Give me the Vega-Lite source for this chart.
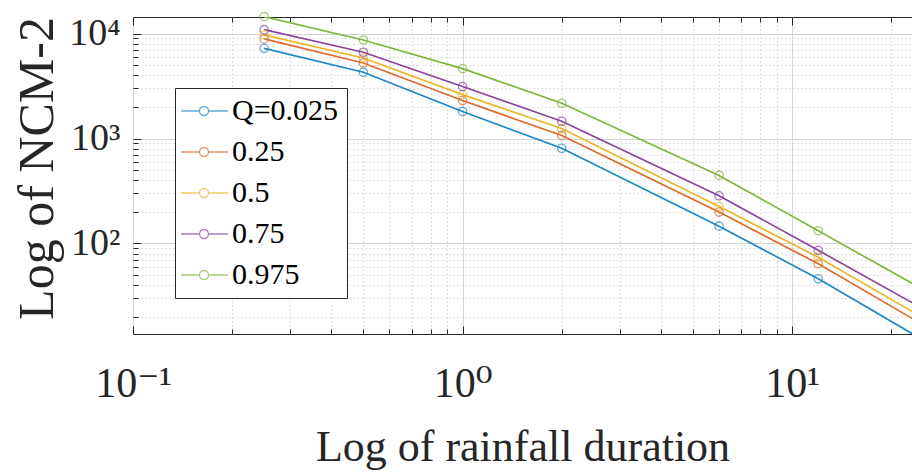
{
  "$schema": "https://vega.github.io/schema/vega-lite/v6.json",
  "width": 779,
  "height": 317,
  "autosize": {"type": "none"},
  "padding": {"left": 133, "top": 17, "right": 0, "bottom": 138},
  "background": "white",
  "config": {
    "view": {"stroke": "#262626", "strokeWidth": 1},
    "font": "'Liberation Serif', 'DejaVu Serif', serif"
  },
  "data": {
    "values": [
      {"d": 0.25, "q": "Q=0.025", "ncm": 7240},
      {"d": 0.5, "q": "Q=0.025", "ncm": 4280},
      {"d": 1, "q": "Q=0.025", "ncm": 1810},
      {"d": 2, "q": "Q=0.025", "ncm": 807},
      {"d": 6, "q": "Q=0.025", "ncm": 146},
      {"d": 12, "q": "Q=0.025", "ncm": 46},
      {"d": 24, "q": "Q=0.025", "ncm": 12.9},
      {"d": 0.25, "q": "0.25", "ncm": 8900},
      {"d": 0.5, "q": "0.25", "ncm": 5250},
      {"d": 1, "q": "0.25", "ncm": 2300},
      {"d": 2, "q": "0.25", "ncm": 1070},
      {"d": 6, "q": "0.25", "ncm": 199},
      {"d": 12, "q": "0.25", "ncm": 64},
      {"d": 24, "q": "0.25", "ncm": 18},
      {"d": 0.25, "q": "0.5", "ncm": 9720},
      {"d": 0.5, "q": "0.5", "ncm": 5860},
      {"d": 1, "q": "0.5", "ncm": 2620},
      {"d": 2, "q": "0.5", "ncm": 1245},
      {"d": 6, "q": "0.5", "ncm": 225},
      {"d": 12, "q": "0.5", "ncm": 74},
      {"d": 24, "q": "0.5", "ncm": 21},
      {"d": 0.25, "q": "0.75", "ncm": 10900},
      {"d": 0.5, "q": "0.75", "ncm": 6640},
      {"d": 1, "q": "0.75", "ncm": 3130},
      {"d": 2, "q": "0.75", "ncm": 1460},
      {"d": 6, "q": "0.75", "ncm": 285},
      {"d": 12, "q": "0.75", "ncm": 86},
      {"d": 24, "q": "0.75", "ncm": 25.5},
      {"d": 0.25, "q": "0.975", "ncm": 14500},
      {"d": 0.5, "q": "0.975", "ncm": 8700},
      {"d": 1, "q": "0.975", "ncm": 4640},
      {"d": 2, "q": "0.975", "ncm": 2170},
      {"d": 6, "q": "0.975", "ncm": 445},
      {"d": 12, "q": "0.975", "ncm": 132},
      {"d": 24, "q": "0.975", "ncm": 39}
    ]
  },
  "encoding": {
    "x": {
      "field": "d",
      "type": "quantitative",
      "scale": {"type": "log", "domain": [0.1, 23.1], "nice": false},
      "axis": {
        "values": [0.1, 0.2, 0.3, 0.4, 0.5, 0.6, 0.7, 0.8, 0.9, 1, 2, 3, 4, 5, 6, 7, 8, 9, 10, 20],
        "labelExpr": "datum.value == 0.1 ? '10⁻¹' : datum.value == 1 ? '10⁰' : datum.value == 10 ? '10¹' : ''",
        "labelFont": "'Liberation Serif', 'DejaVu Serif', serif",
        "labelFontSize": 42,
        "labelColor": "#262626",
        "labelPadding": 37,
        "labelFlush": false,
        "labelOverlap": false,
        "domain": false,
        "tickColor": "#262626",
        "tickSize": {"condition": {"test": "datum.value == 0.1 || datum.value == 1 || datum.value == 10", "value": -8}, "value": -5},
        "grid": true,
        "gridColor": {"condition": {"test": "datum.value == 0.1 || datum.value == 1 || datum.value == 10", "value": "#d6d6d6"}, "value": "#c0c0c0"},
        "gridDash": {"condition": {"test": "datum.value == 0.1 || datum.value == 1 || datum.value == 10", "value": []}, "value": [1, 3]},
        "title": "Log of rainfall duration",
        "titleFont": "'Liberation Serif', 'DejaVu Serif', serif",
        "titleFontSize": 44,
        "titleFontWeight": "normal",
        "titleColor": "#262626",
        "titleBaseline": "alphabetic",
        "titleY": 126
      }
    },
    "y": {
      "field": "ncm",
      "type": "quantitative",
      "scale": {"type": "log", "domain": [13.7, 14400], "nice": false},
      "axis": {
        "values": [20, 30, 40, 50, 60, 70, 80, 90, 100, 200, 300, 400, 500, 600, 700, 800, 900, 1000, 2000, 3000, 4000, 5000, 6000, 7000, 8000, 9000, 10000],
        "labelExpr": "datum.value == 100 ? '10²' : datum.value == 1000 ? '10³' : datum.value == 10000 ? '10⁴' : ''",
        "labelFont": "'Liberation Serif', 'DejaVu Serif', serif",
        "labelFontSize": 38,
        "labelColor": "#262626",
        "labelPadding": 21,
        "labelFlush": false,
        "labelOverlap": false,
        "domain": false,
        "tickColor": "#262626",
        "tickSize": {"condition": {"test": "datum.value == 100 || datum.value == 1000 || datum.value == 10000", "value": -8}, "value": -5},
        "grid": true,
        "gridColor": {"condition": {"test": "datum.value == 100 || datum.value == 1000 || datum.value == 10000", "value": "#d6d6d6"}, "value": "#c0c0c0"},
        "gridDash": {"condition": {"test": "datum.value == 100 || datum.value == 1000 || datum.value == 10000", "value": []}, "value": [1, 3]},
        "title": "Log of NCM-2",
        "titleFont": "'Liberation Serif', 'DejaVu Serif', serif",
        "titleFontSize": 50,
        "titleFontWeight": "normal",
        "titleColor": "#262626",
        "titleBaseline": "alphabetic",
        "titleAlign": "center",
        "titleX": -81,
        "titleY": 151
      }
    },
    "color": {
      "field": "q",
      "type": "nominal",
      "sort": ["Q=0.025", "0.25", "0.5", "0.75", "0.975"],
      "scale": {
        "domain": ["Q=0.025", "0.25", "0.5", "0.75", "0.975"],
        "range": ["#1f86c8", "#dd6a2f", "#ebb62a", "#8a44a0", "#80b540"]
      },
      "legend": {
        "title": null,
        "orient": "none",
        "legendX": 42,
        "legendY": 71,
        "fillColor": "white",
        "strokeColor": "#262626",
        "padding": 8,
        "labelFont": "'Liberation Serif', 'DejaVu Serif', serif",
        "labelFontSize": 30,
        "labelColor": "#000000",
        "labelOffset": 19,
        "symbolType": "M-1.21,0H0.11M0.75,0H2.14M0.11,0A0.32,0.32 0 1,1 0.75,0A0.32,0.32 0 1,1 0.11,0",
        "symbolSize": 784,
        "symbolStrokeWidth": 1.3,
        "symbolFillColor": "transparent",
        "rowPadding": 11
      }
    }
  },
  "layer": [
    {"mark": {"type": "line", "clip": true, "strokeWidth": 1.7}},
    {
      "mark": {"type": "point", "filled": false, "size": 70, "strokeWidth": 1.3},
      "encoding": {
        "x": {
          "field": "d",
          "type": "quantitative",
          "axis": {
            "orient": "top",
            "values": [0.1, 0.2, 0.3, 0.4, 0.5, 0.6, 0.7, 0.8, 0.9, 1, 2, 3, 4, 5, 6, 7, 8, 9, 10, 20],
            "labels": false,
            "grid": false,
            "domain": false,
            "title": null,
            "tickColor": "#262626",
            "tickSize": {"condition": {"test": "datum.value == 0.1 || datum.value == 1 || datum.value == 10", "value": -8}, "value": -5}
          }
        }
      }
    }
  ],
  "resolve": {"axis": {"x": "independent"}}
}
